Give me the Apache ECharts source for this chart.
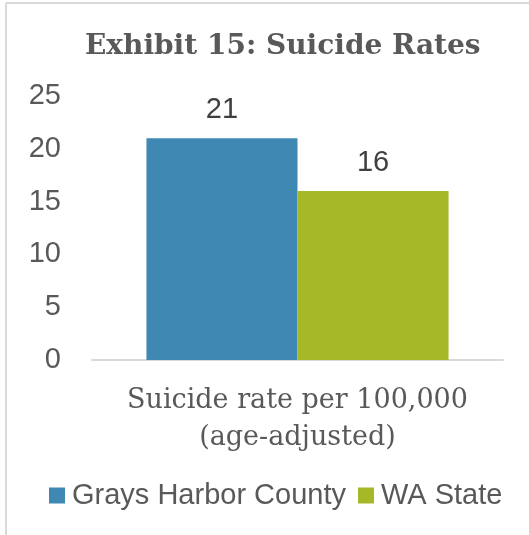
<!DOCTYPE html>
<html>
<head>
<meta charset="utf-8">
<style>
  html, body { margin: 0; padding: 0; background: #ffffff; }
  #chart { width: 529px; height: 535px; }
</style>
<script src="https://cdn.jsdelivr.net/npm/echarts@6/dist/echarts.min.js"></script>
</head>
<body>
<div id="chart"></div>
<script>
// Suicide rates, age-adjusted, per 100,000
const categories = ['Suicide rate per 100,000\n(age-adjusted)'];
const seriesNames = ['Grays Harbor County', 'WA State'];
const graysHarbor = [21];
const waState = [16];
const yTicks = [0, 5, 10, 15, 20, 25];

const colors = ['#3f88b3', '#a5b828'];
const textGray = '#595959';
const sansFont = '"Liberation Sans", Arial, sans-serif';
const serifFont = '"DejaVu Serif", Georgia, serif';

const chart = echarts.init(document.getElementById('chart'));

chart.setOption({
  animation: false,
  backgroundColor: '#ffffff',
  graphic: [
    { type: 'line', shape: { x1: 6, y1: 3, x2: 529, y2: 3 }, style: { stroke: '#d9d9d9', lineWidth: 2 } },
    { type: 'line', shape: { x1: 6, y1: 3, x2: 6, y2: 535 }, style: { stroke: '#d9d9d9', lineWidth: 2 } }
  ],
  title: {
    text: 'Exhibit 15: Suicide Rates',
    left: 80,
    top: 28,
    textStyle: { fontFamily: serifFont, fontWeight: 'bold', fontSize: 28, color: textGray }
  },
  legend: {
    data: seriesNames,
    bottom: 20,
    left: 44,
    itemWidth: 16,
    itemHeight: 16,
    itemGap: 12,
    icon: 'rect',
    textStyle: { fontFamily: sansFont, fontSize: 29, color: textGray, padding: [0, 0, 0, 2] }
  },
  grid: { left: 92, right: 26, top: 96, bottom: 175, containLabel: false },
  xAxis: {
    type: 'category',
    data: categories,
    axisLine: { show: true, lineStyle: { color: '#d9d9d9', width: 2 } },
    axisTick: { show: false },
    axisLabel: {
      fontFamily: serifFont, fontSize: 27, color: textGray,
      lineHeight: 37, margin: 22, interval: 0
    }
  },
  yAxis: {
    type: 'value',
    min: yTicks[0],
    max: yTicks[yTicks.length - 1],
    interval: 5,
    axisLine: { show: false },
    axisTick: { show: false },
    splitLine: { show: false },
    axisLabel: { fontFamily: sansFont, fontSize: 29, color: textGray, margin: 31 }
  },
  series: [
    {
      name: seriesNames[0],
      type: 'bar',
      data: graysHarbor,
      barGap: '0%',
      barCategoryGap: '26.5%',
      itemStyle: { color: colors[0] },
      label: { show: true, position: 'top', distance: 14, fontFamily: sansFont, fontSize: 29, color: '#404040' }
    },
    {
      name: seriesNames[1],
      type: 'bar',
      data: waState,
      barGap: '0%',
      barCategoryGap: '26.5%',
      itemStyle: { color: colors[1] },
      label: { show: true, position: 'top', distance: 14, fontFamily: sansFont, fontSize: 29, color: '#404040' }
    }
  ]
});
</script>
</body>
</html>
